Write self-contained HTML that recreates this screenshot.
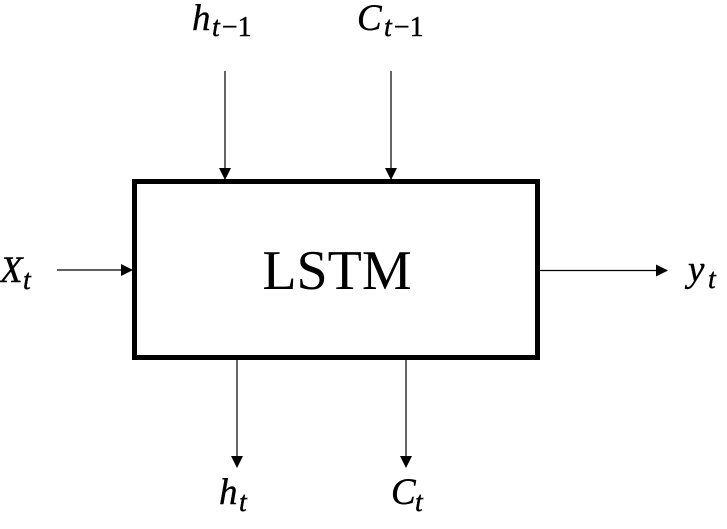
<!DOCTYPE html>
<html><head><meta charset="utf-8"><style>
html,body{margin:0;padding:0;background:#fff;}
</style></head><body>
<svg width="727" height="529" xmlns="http://www.w3.org/2000/svg" style="display:block">
<defs>
<marker id="b" markerWidth="12" markerHeight="12" refX="11" refY="6" orient="auto" markerUnits="userSpaceOnUse"><path d="M0,0 L12,6 L0,12 z" fill="#000"/></marker></defs>
<rect x="134.5" y="181.5" width="403" height="176" fill="none" stroke="#000" stroke-width="5"/>
<text x="337" y="289" font-family="Liberation Serif, serif" font-size="56" text-anchor="middle">LSTM</text>
<g stroke="#000" stroke-width="1.2">
<line x1="225" y1="71" x2="225" y2="179" marker-end="url(#b)"/>
<line x1="391" y1="71" x2="391" y2="179" marker-end="url(#b)"/>
<line x1="57" y1="270" x2="132" y2="270" marker-end="url(#b)"/>
<line x1="540" y1="270.5" x2="667" y2="270.5" marker-end="url(#b)"/>
<line x1="237" y1="360" x2="237" y2="467" marker-end="url(#b)"/>
<line x1="406" y1="360" x2="406" y2="467" marker-end="url(#b)"/>
</g>
<g font-family="Liberation Serif, serif" font-style="italic" fill="#000" stroke="#000" stroke-width="0.4">
<text x="192" y="30" font-size="37">h</text><text x="212" y="36" font-size="28">t<tspan font-style="normal" dx="2">−1</tspan></text>
<text x="357" y="30" font-size="37">C</text><text x="384" y="36" font-size="28">t<tspan font-style="normal" dx="2">−1</tspan></text>
<text x="0" y="282" font-size="37">X</text><text x="23" y="289" font-size="28">t</text>
<text x="688" y="281" font-size="37">y</text><text x="708" y="288" font-size="28">t</text>
<text x="219" y="504" font-size="37">h</text><text x="239" y="511" font-size="28">t</text>
<text x="391" y="504" font-size="37">C</text><text x="415" y="511" font-size="28">t</text>
</g>
</svg>
</body></html>
